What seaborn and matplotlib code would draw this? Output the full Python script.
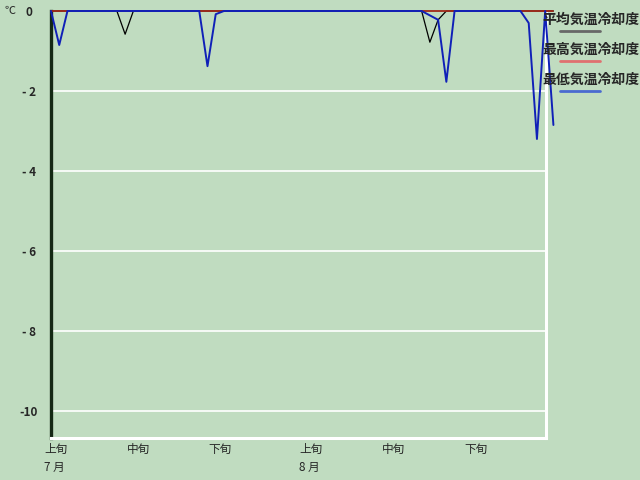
import numpy as np
import pandas as pd
import matplotlib
matplotlib.use('Agg')
import matplotlib.pyplot as plt
import matplotlib.transforms as mtransforms
import seaborn as sns

# daily values Jul 1 .. Aug 31 (day index 0..61)
days = list(range(62))
mean_cool = [0.0] * 62
max_cool = [0.0] * 62
min_cool = [0.0] * 62

# average-temperature cooling degree dips
mean_cool[9] = -0.58
mean_cool[46] = -0.78
mean_cool[47] = -0.22

# minimum-temperature cooling degree dips
min_cool[1] = -0.85
min_cool[19] = -1.38
min_cool[20] = -0.08
min_cool[46] = -0.11
min_cool[47] = -0.22
min_cool[48] = -1.77
min_cool[58] = -0.30
min_cool[59] = -3.20
min_cool[61] = -2.85

series_names = ['平均気温冷却度', '最高気温冷却度', '最低気温冷却度']
x_tick_days = [0, 10, 20, 31, 41, 51]
x_tick_labels = ['上旬', '中旬', '下旬', '上旬', '中旬', '下旬']
month_days = [0, 31]
month_labels = ['7 月', '8 月']
y_ticks = [0, -2, -4, -6, -8, -10]
y_tick_labels = ['0', '- 2', '- 4', '- 6', '- 8', '-10']

df = pd.DataFrame({'day': days, 'mean': mean_cool, 'max': max_cool, 'min': min_cool})

bg = '#c0dcc0'
sns.set_style('white')
plt.rcParams['font.family'] = ['Noto Sans CJK JP', 'DejaVu Sans']

fig = plt.figure(figsize=(6.4, 4.8), dpi=100, facecolor=bg)
W, H = 640, 480
ax = fig.add_axes([51 / W, 1 - 438 / H, (546 - 51) / W, (438 - 11) / H])
ax.set_facecolor(bg)

for y in y_ticks[1:]:
    ax.axhline(y, color='white', lw=1.2, zorder=1)

line_colors = ['#000000', '#a02818', '#1020b8']
for col, c, lw in zip(['mean', 'max', 'min'], line_colors, [0.9, 1.3, 1.4]):
    sns.lineplot(data=df, x='day', y=col, ax=ax, color=c, lw=lw, clip_on=False, zorder=3)

ax.set_xlim(0, 60.1)
ax.set_ylim(-10.675, 0)
ax.set_xlabel('')
ax.set_ylabel('')

ax.spines['top'].set_visible(False)
ax.spines['left'].set_color('#142814')
ax.spines['left'].set_linewidth(2.4)
ax.spines['bottom'].set_color('white')
ax.spines['bottom'].set_linewidth(2.2)
ax.spines['right'].set_color('white')
ax.spines['right'].set_linewidth(2.2)

ax.set_yticks(y_ticks)
ax.set_yticklabels(y_tick_labels, fontsize=8.5, fontweight='bold', ha='center')
ax.tick_params(axis='y', length=0, pad=15.8)

ax.set_xticks(x_tick_days)
ax.set_xticklabels(x_tick_labels, fontsize=8.4, ha='left')
ax.tick_params(axis='x', length=0, pad=3.5)
shift = mtransforms.ScaledTranslation(-5 / 72, 0, fig.dpi_scale_trans)
for lab in ax.get_xticklabels():
    lab.set_transform(lab.get_transform() + shift)

xt = ax.get_xaxis_transform()
for d, m in zip(month_days, month_labels):
    ax.text(d, -0.07, m, transform=xt + shift, fontsize=8.4, ha='left', va='center')

fig.text(10 / W, 1 - 11 / H, '℃', fontsize=8, ha='center', va='center')

# legend on the right
leg_colors = ['#686868', '#e07070', '#4a6ad0']
for i, (name, c) in enumerate(zip(series_names, leg_colors)):
    ty = 20 + 30 * i
    fig.text(542 / W, 1 - ty / H, name, fontsize=10, fontweight='bold', ha='left', va='center')
    fig.add_artist(plt.Line2D([560 / W, 600 / W], [1 - (ty + 11) / H] * 2, color=c, lw=2,
                              transform=fig.transFigure))

fig.savefig('out.png', dpi=100, facecolor=bg)
